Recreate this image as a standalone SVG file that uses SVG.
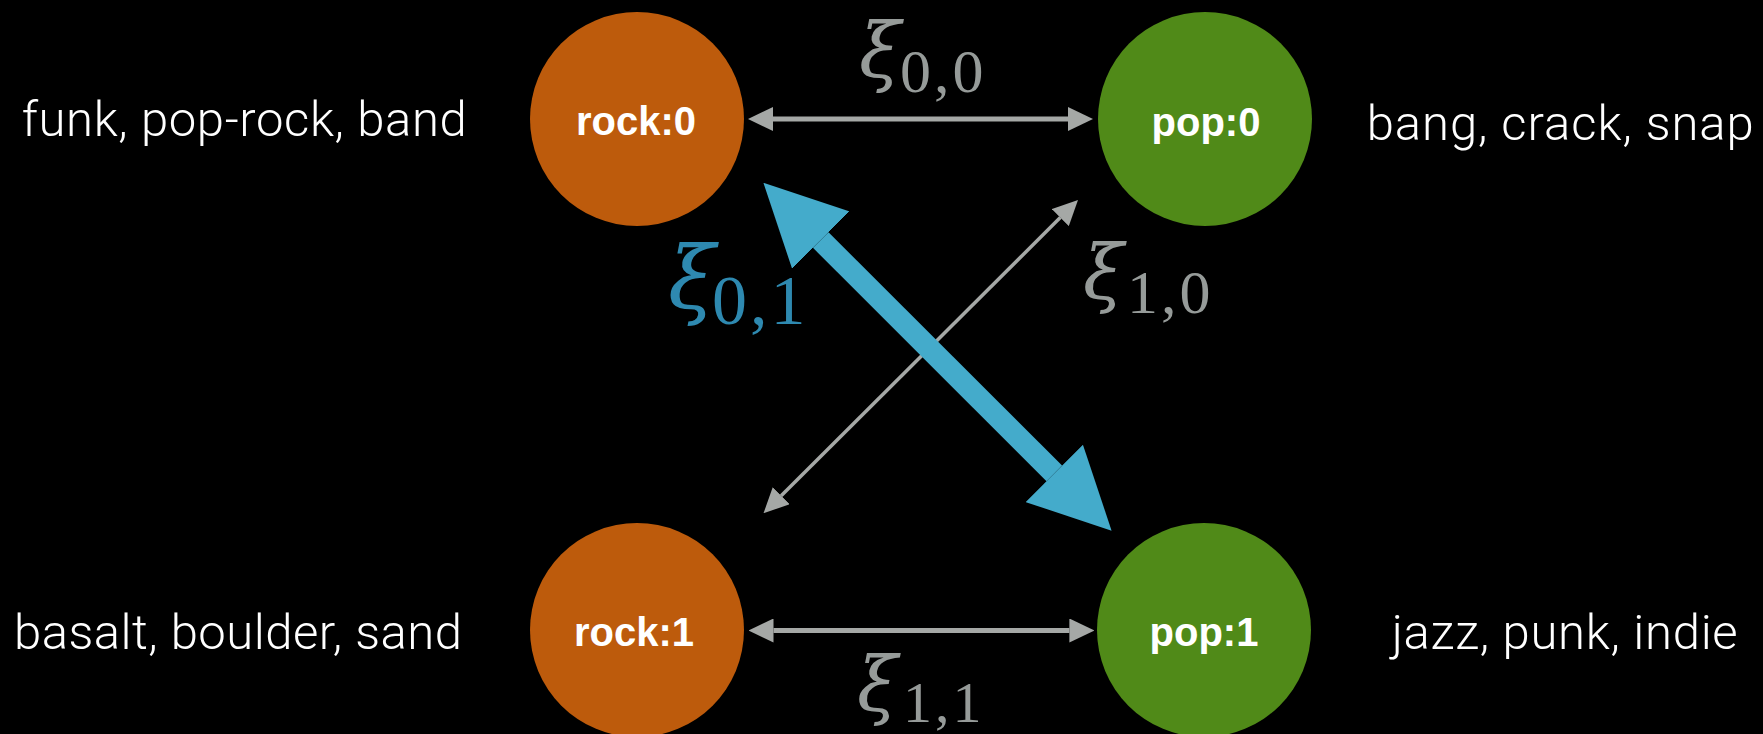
<svg xmlns="http://www.w3.org/2000/svg" width="1763" height="734" viewBox="0 0 1763 734">
<style>
.node-rock{fill:#bd5b0c}
.node-pop{fill:#508a18}
.nlabel{font-family:"Liberation Sans",Arial,sans-serif;font-weight:bold;font-size:40px;fill:#ffffff;text-anchor:middle}
.side{font-family:Roboto,"Liberation Sans",sans-serif;font-weight:300;font-size:49px;fill:#ffffff}
.xi{font-family:"DejaVu Serif","Liberation Serif",serif;font-style:italic}
.sub{font-family:"Liberation Serif","Times New Roman",serif;letter-spacing:3px}
.gray-t{fill:#969b99}
.blue-t{fill:#2e89b0}
.gline{stroke:#a5a8a6;fill:none}
.bline{stroke:#44abcb;fill:none;stroke-width:22}
</style>
<defs>
<marker id="ghead" markerUnits="userSpaceOnUse" markerWidth="25" markerHeight="24" viewBox="0 -12 25 24" refX="0" refY="0" orient="auto-start-reverse">
<path d="M0,-12 L25,0 L0,12 Z" fill="#a5a8a6"/>
</marker>
<marker id="bhead" markerUnits="userSpaceOnUse" markerWidth="81" markerHeight="81" viewBox="0 -40.5 81 81" refX="0" refY="0" orient="auto-start-reverse">
<path d="M0,-40.5 L81,0 L0,40.5 Z" fill="#44abcb"/>
</marker>
</defs>
<rect x="0" y="0" width="1763" height="734" fill="#000000"/>

<g id="connectors">
<line class="gline" x1="773" y1="119" x2="1068" y2="119" stroke-width="5" marker-start="url(#ghead)" marker-end="url(#ghead)"/>
<line class="gline" x1="773.5" y1="630.5" x2="1069.4" y2="630.5" stroke-width="5" marker-start="url(#ghead)" marker-end="url(#ghead)"/>
<line class="gline" x1="781.2" y1="495.7" x2="1060.3" y2="217.6" stroke-width="3.5" marker-start="url(#ghead)" marker-end="url(#ghead)"/>
<line class="bline" x1="820.7" y1="240" x2="1054.3" y2="473.4" marker-start="url(#bhead)" marker-end="url(#bhead)"/>
</g>

<g id="edge-labels">
<g id="xi00" class="gray-t"><text class="xi" x="859" y="77" font-size="76">ξ</text><text class="sub" x="900" y="91.5" font-size="62">0,0</text></g>
<g id="xi10" class="gray-t"><text class="xi" x="1083" y="298" font-size="74">ξ</text><text class="sub" x="1127" y="312.5" font-size="62">1,0</text></g>
<g id="xi01" class="blue-t"><text class="xi" x="668" y="308" font-size="86">ξ</text><text class="sub" x="712" y="324" font-size="70">0,1</text></g>
<g id="xi11" class="gray-t"><text class="xi" x="857" y="710" font-size="74">ξ</text><text class="sub" x="903" y="722" font-size="58">1,1</text></g>
</g>

<g id="rock0">
<circle class="node-rock" cx="637" cy="119" r="107"/>
<text class="nlabel" x="636" y="135">rock:0</text>
</g>
<g id="pop0">
<circle class="node-pop" cx="1205" cy="119" r="107"/>
<text class="nlabel" x="1206" y="136">pop:0</text>
</g>
<g id="rock1">
<circle class="node-rock" cx="637" cy="630" r="107"/>
<text class="nlabel" x="634" y="645.5">rock:1</text>
</g>
<g id="pop1">
<circle class="node-pop" cx="1204" cy="630" r="107"/>
<text class="nlabel" x="1204" y="645.5">pop:1</text>
</g>

<g id="side-labels">
<text class="side" x="21.7" y="136" textLength="445">funk, pop-rock, band</text>
<text class="side" x="1366.7" y="140" textLength="387">bang, crack, snap</text>
<text class="side" x="14" y="649" textLength="448">basalt, boulder, sand</text>
<text class="side" x="1391.7" y="649" textLength="346">jazz, punk, indie</text>
</g>
</svg>
